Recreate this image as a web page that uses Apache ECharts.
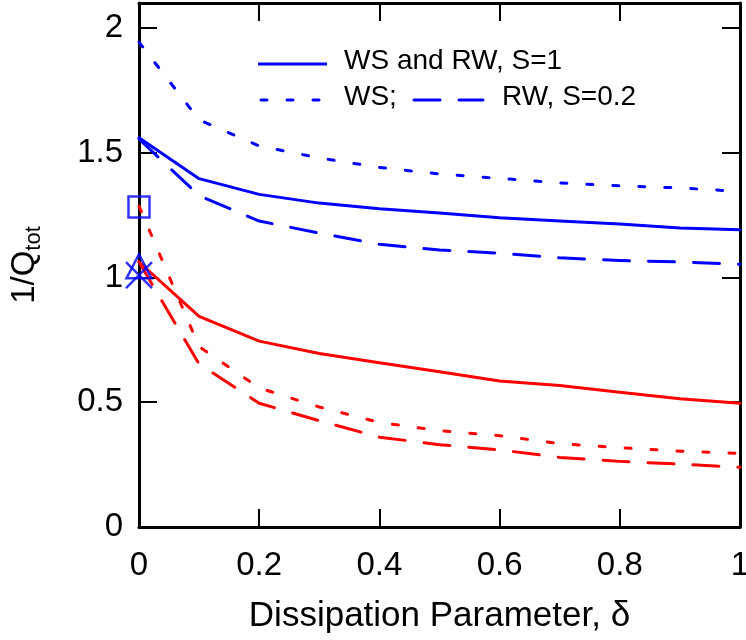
<!DOCTYPE html>
<html>
<head>
<meta charset="utf-8">
<script src="https://cdn.jsdelivr.net/npm/echarts@6/dist/echarts.min.js"></script>
<style>
html,body{margin:0;padding:0;background:#fff;}
#main{width:746px;height:640px;}
</style>
</head>
<body>
<div id="main"></div>
<script>
// ---- data ----
var deltas = [0, 0.1, 0.2, 0.3, 0.4, 0.5, 0.6, 0.7, 0.8, 0.9, 1.0];
var blueSolid  = [1.560, 1.396, 1.333, 1.298, 1.275, 1.258, 1.239, 1.226, 1.214, 1.198, 1.191];
var blueDotted = [1.943, 1.632, 1.527, 1.479, 1.441, 1.415, 1.397, 1.379, 1.367, 1.359, 1.345];
var blueDashed = [1.555, 1.328, 1.226, 1.178, 1.133, 1.110, 1.097, 1.079, 1.068, 1.062, 1.053];
var redSolid   = [1.062, 0.844, 0.745, 0.695, 0.658, 0.622, 0.585, 0.567, 0.540, 0.514, 0.496];
var redDotted  = [1.286, 0.723, 0.557, 0.481, 0.419, 0.386, 0.366, 0.334, 0.318, 0.304, 0.295];
var redDashed  = [1.062, 0.653, 0.496, 0.426, 0.360, 0.330, 0.309, 0.279, 0.263, 0.252, 0.239];
var squarePoint = [0, 1.282];
var trianglePoint = [0, 1.045];
var crossPoint = [0, 1.009];
var xTicks = ['0', '0.2', '0.4', '0.6', '0.8', '1'];
var yTicks = ['0', '0.5', '1', '1.5', '2'];
var legendRow1 = 'WS and RW, S=1';
var legendRow2a = 'WS;';
var legendRow2b = 'RW, S=0.2';

var FONT = '"Liberation Sans", Arial, sans-serif';
var BLUE = '#0000ff', RED = '#ff0000';
var DOT = [6, 20], DASH = [26, 19];

function pairs(ys) { return deltas.map(function (x, i) { return [x, ys[i]]; }); }
function lineSeries(ys, color, type) {
  return {
    type: 'line', data: pairs(ys), symbol: 'none', xAxisIndex: 0, yAxisIndex: 0,
    lineStyle: { color: color, width: 3, type: type, cap: 'round', join: 'round' },
    z: 3, animation: false
  };
}
function fmt(list, step) {
  return function (v) {
    var i = Math.round(v / step);
    return list[i] !== undefined ? list[i] : '';
  };
}

var chart = echarts.init(document.getElementById('main'), null, { renderer: 'canvas' });
var axisLine = { show: true, onZero: false, lineStyle: { color: '#000', width: 3 } };
var axisTick = { show: true, inside: true, length: 18, lineStyle: { color: '#000', width: 2 } };

var option = {
  backgroundColor: '#fff',
  animation: false,
  grid: { left: 139, right: 6, top: 3, bottom: 113, containLabel: false, outerBoundsMode: 'none' },
  xAxis: [
    {
      type: 'value', position: 'bottom', min: 0, max: 1, interval: 0.2,
      axisLine: axisLine, axisTick: axisTick, splitLine: { show: false },
      axisLabel: { color: '#000', fontSize: 33, fontFamily: FONT, margin: 22, formatter: fmt(xTicks, 0.2) },
      name: 'Dissipation Parameter, δ', nameLocation: 'middle', nameGap: 72,
      nameTextStyle: { color: '#000', fontSize: 35, fontFamily: FONT }
    },
    {
      type: 'value', position: 'top', min: 0, max: 1, interval: 0.2,
      axisLine: axisLine, axisTick: axisTick, splitLine: { show: false },
      axisLabel: { show: false }
    }
  ],
  yAxis: [
    {
      type: 'value', position: 'left', min: 0, max: 2.1, interval: 0.5,
      axisLine: axisLine, axisTick: axisTick, splitLine: { show: false },
      axisLabel: { color: '#000', fontSize: 33, fontFamily: FONT, margin: 16, formatter: fmt(yTicks, 0.5),
        showMaxLabel: false },
      name: '{a|1/Q}{b|tot}', nameLocation: 'middle', nameGap: 94, nameRotate: 90,
      nameTextStyle: {
        color: '#000', fontFamily: FONT,
        rich: {
          a: { fontSize: 33, fontFamily: FONT, color: '#000', lineHeight: 40 },
          b: { fontSize: 22, fontFamily: FONT, color: '#000', lineHeight: 40, verticalAlign: 'bottom', padding: [12, 0, 0, 0] }
        }
      }
    },
    {
      type: 'value', position: 'right', min: 0, max: 2.1, interval: 0.5,
      axisLine: axisLine, axisTick: axisTick, splitLine: { show: false },
      axisLabel: { show: false }
    }
  ],
  series: [
    lineSeries(blueDotted, BLUE, DOT),
    lineSeries(blueSolid, BLUE, 'solid'),
    lineSeries(blueDashed, BLUE, DASH),
    lineSeries(redDotted, RED, DOT),
    lineSeries(redSolid, RED, 'solid'),
    lineSeries(redDashed, RED, DASH),
    {
      type: 'scatter', data: [squarePoint], symbol: 'rect', symbolSize: 21, clip: false, z: 5,
      itemStyle: { color: 'rgba(0,0,0,0)', borderColor: BLUE, borderWidth: 2.5 }
    },
    {
      type: 'scatter', data: [trianglePoint], symbol: 'triangle', symbolSize: [25, 24], clip: false, z: 5,
      itemStyle: { color: 'rgba(0,0,0,0)', borderColor: BLUE, borderWidth: 2.5 }
    },
    {
      type: 'scatter', data: [crossPoint], symbol: 'path://M0,0L10,10M10,0L0,10', symbolSize: 26, clip: false, z: 5,
      itemStyle: { color: 'rgba(0,0,0,0)', borderColor: BLUE, borderWidth: 2.5 }
    }
  ],
  graphic: [
    { type: 'line', shape: { x1: 258, y1: 64, x2: 327, y2: 64 }, style: { stroke: BLUE, lineWidth: 3 } },
    { type: 'text', left: 344, top: 47, style: { text: legendRow1, font: '28px ' + FONT, fill: '#000' } },
    { type: 'line', shape: { x1: 261, y1: 100, x2: 320, y2: 100 }, style: { stroke: BLUE, lineWidth: 3, lineDash: DOT, lineCap: 'round' } },
    { type: 'text', left: 344, top: 83, style: { text: legendRow2a, font: '28px ' + FONT, fill: '#000' } },
    { type: 'line', shape: { x1: 414, y1: 100, x2: 483, y2: 100 }, style: { stroke: BLUE, lineWidth: 3, lineDash: DASH, lineCap: 'round' } },
    { type: 'text', left: 502, top: 83, style: { text: legendRow2b, font: '28px ' + FONT, fill: '#000' } }
  ]
};
chart.setOption(option);
</script>
</body>
</html>
